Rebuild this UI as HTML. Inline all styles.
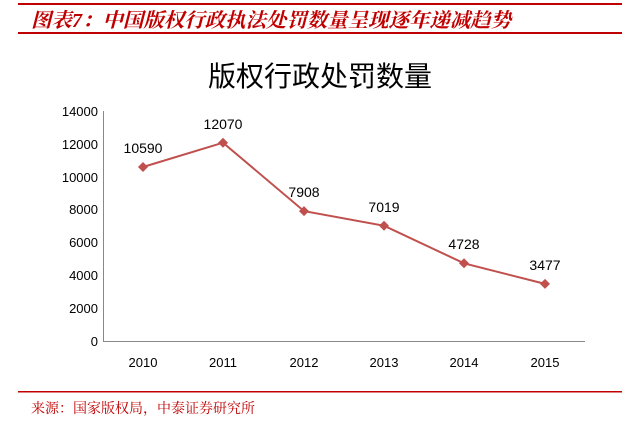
<!DOCTYPE html>
<html><head><meta charset="utf-8"><style>
body{margin:0;background:#fff;width:638px;height:421px;overflow:hidden}
</style></head><body>
<svg width="638" height="421" xmlns="http://www.w3.org/2000/svg" style="display:block">
<rect x="18" y="3" width="604" height="2" fill="#C00000"/>
<text x="31" y="27" textLength="480" lengthAdjust="spacingAndGlyphs" font-family="Liberation Serif, Noto Serif CJK SC, serif" font-size="20" font-weight="bold" font-style="italic" fill="#C00000">图表7：中国版权行政执法处罚数量呈现逐年递减趋势</text>
<rect x="18" y="32" width="604" height="2" fill="#C00000"/>
<text x="320" y="86" text-anchor="middle" font-family="Liberation Sans, Noto Sans CJK SC, sans-serif" font-size="28" fill="#000">版权行政处罚数量</text>
<g font-family="Liberation Sans, sans-serif" font-size="13" fill="#000" text-anchor="end">
<text x="98" y="116">14000</text><text x="98" y="149">12000</text><text x="98" y="182">10000</text>
<text x="98" y="214">8000</text><text x="98" y="247">6000</text><text x="98" y="280">4000</text>
<text x="98" y="313">2000</text><text x="98" y="346">0</text>
</g>
<line x1="103.5" y1="111" x2="103.5" y2="341" stroke="#888" stroke-width="1"/>
<line x1="103" y1="341.5" x2="585" y2="341.5" stroke="#888" stroke-width="1"/>
<g font-family="Liberation Sans, sans-serif" font-size="13" fill="#000" text-anchor="middle">
<text x="143" y="367">2010</text><text x="223" y="367">2011</text><text x="304" y="367">2012</text>
<text x="384" y="367">2013</text><text x="464" y="367">2014</text><text x="545" y="367">2015</text>
</g>
<polyline points="143,167 223,142.7 304,211.1 384,225.7 464,263.3 545,283.9" fill="none" stroke="#C0504D" stroke-width="2"/>
<g fill="#C0504D">
<path d="M143,162l5,5l-5,5l-5,-5z"/><path d="M223,137.7l5,5l-5,5l-5,-5z"/><path d="M304,206.1l5,5l-5,5l-5,-5z"/>
<path d="M384,220.7l5,5l-5,5l-5,-5z"/><path d="M464,258.3l5,5l-5,5l-5,-5z"/><path d="M545,278.9l5,5l-5,5l-5,-5z"/>
</g>
<g font-family="Liberation Sans, sans-serif" font-size="14" fill="#000" text-anchor="middle">
<text x="143" y="153">10590</text><text x="223" y="129">12070</text><text x="304" y="197">7908</text>
<text x="384" y="212">7019</text><text x="464" y="249">4728</text><text x="545" y="270">3477</text>
</g>
<rect x="18" y="391" width="604" height="1.5" fill="#C00000"/>
<text x="31" y="413" font-family="Liberation Serif, Noto Serif CJK SC, serif" font-size="14" fill="#C00000">来源：国家版权局，中泰证券研究所</text>
</svg>
</body></html>
